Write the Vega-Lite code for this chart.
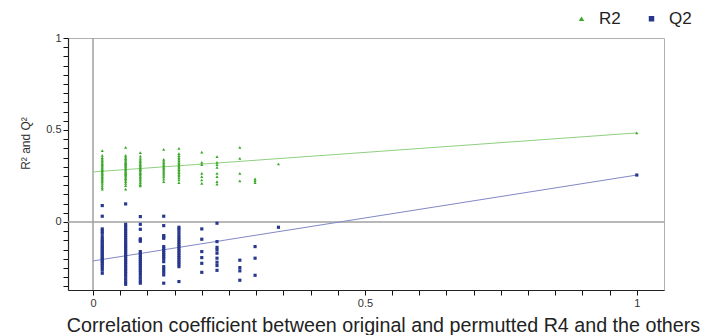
{
  "$schema": "https://vega.github.io/schema/vega-lite/v6.json",
  "width": 596,
  "height": 252,
  "autosize": "none",
  "padding": {"left": 68, "top": 38, "right": 53, "bottom": 45},
  "background": "white",
  "config": {
    "view": {"stroke": "#b0b0b0", "strokeWidth": 1},
    "font": "Liberation Sans",
    "axis": {"ticks": true, "tickColor": "#111", "tickWidth": 1, "tickSize": 5, "domainColor": "#222", "domainWidth": 1.2}
  },
  "datasets": {
    "pts": [
      {"x":0.017,"y":0.388,"s":"R2"},{"x":0.017,"y":0.362,"s":"R2"},{"x":0.017,"y":0.350,"s":"R2"},{"x":0.017,"y":0.342,"s":"R2"},{"x":0.017,"y":0.333,"s":"R2"},{"x":0.017,"y":0.325,"s":"R2"},{"x":0.017,"y":0.318,"s":"R2"},{"x":0.017,"y":0.311,"s":"R2"},{"x":0.017,"y":0.305,"s":"R2"},{"x":0.017,"y":0.298,"s":"R2"},{"x":0.017,"y":0.291,"s":"R2"},{"x":0.017,"y":0.285,"s":"R2"},{"x":0.017,"y":0.279,"s":"R2"},{"x":0.017,"y":0.272,"s":"R2"},{"x":0.017,"y":0.266,"s":"R2"},{"x":0.017,"y":0.260,"s":"R2"},{"x":0.017,"y":0.254,"s":"R2"},{"x":0.017,"y":0.247,"s":"R2"},{"x":0.017,"y":0.240,"s":"R2"},{"x":0.017,"y":0.233,"s":"R2"},{"x":0.017,"y":0.226,"s":"R2"},{"x":0.017,"y":0.218,"s":"R2"},{"x":0.017,"y":0.209,"s":"R2"},{"x":0.017,"y":0.199,"s":"R2"},{"x":0.017,"y":0.188,"s":"R2"},{"x":0.017,"y":0.178,"s":"R2"},
      {"x":0.06,"y":0.406,"s":"R2"},{"x":0.06,"y":0.362,"s":"R2"},{"x":0.06,"y":0.352,"s":"R2"},{"x":0.06,"y":0.344,"s":"R2"},{"x":0.06,"y":0.337,"s":"R2"},{"x":0.06,"y":0.330,"s":"R2"},{"x":0.06,"y":0.323,"s":"R2"},{"x":0.06,"y":0.317,"s":"R2"},{"x":0.06,"y":0.311,"s":"R2"},{"x":0.06,"y":0.305,"s":"R2"},{"x":0.06,"y":0.299,"s":"R2"},{"x":0.06,"y":0.293,"s":"R2"},{"x":0.06,"y":0.287,"s":"R2"},{"x":0.06,"y":0.281,"s":"R2"},{"x":0.06,"y":0.275,"s":"R2"},{"x":0.06,"y":0.269,"s":"R2"},{"x":0.06,"y":0.263,"s":"R2"},{"x":0.06,"y":0.257,"s":"R2"},{"x":0.06,"y":0.250,"s":"R2"},{"x":0.06,"y":0.243,"s":"R2"},{"x":0.06,"y":0.236,"s":"R2"},{"x":0.06,"y":0.228,"s":"R2"},{"x":0.06,"y":0.219,"s":"R2"},{"x":0.06,"y":0.209,"s":"R2"},{"x":0.06,"y":0.197,"s":"R2"},{"x":0.06,"y":0.178,"s":"R2"},
      {"x":0.087,"y":0.377,"s":"R2"},{"x":0.087,"y":0.358,"s":"R2"},{"x":0.087,"y":0.345,"s":"R2"},{"x":0.087,"y":0.336,"s":"R2"},{"x":0.087,"y":0.328,"s":"R2"},{"x":0.087,"y":0.320,"s":"R2"},{"x":0.087,"y":0.312,"s":"R2"},{"x":0.087,"y":0.305,"s":"R2"},{"x":0.087,"y":0.298,"s":"R2"},{"x":0.087,"y":0.291,"s":"R2"},{"x":0.087,"y":0.284,"s":"R2"},{"x":0.087,"y":0.277,"s":"R2"},{"x":0.087,"y":0.270,"s":"R2"},{"x":0.087,"y":0.263,"s":"R2"},{"x":0.087,"y":0.256,"s":"R2"},{"x":0.087,"y":0.248,"s":"R2"},{"x":0.087,"y":0.240,"s":"R2"},{"x":0.087,"y":0.231,"s":"R2"},{"x":0.087,"y":0.222,"s":"R2"},{"x":0.087,"y":0.212,"s":"R2"},{"x":0.087,"y":0.203,"s":"R2"},{"x":0.087,"y":0.196,"s":"R2"},
      {"x":0.13,"y":0.395,"s":"R2"},{"x":0.13,"y":0.340,"s":"R2"},{"x":0.13,"y":0.330,"s":"R2"},{"x":0.13,"y":0.321,"s":"R2"},{"x":0.13,"y":0.313,"s":"R2"},{"x":0.13,"y":0.305,"s":"R2"},{"x":0.13,"y":0.297,"s":"R2"},{"x":0.13,"y":0.289,"s":"R2"},{"x":0.13,"y":0.281,"s":"R2"},{"x":0.13,"y":0.272,"s":"R2"},{"x":0.13,"y":0.264,"s":"R2"},{"x":0.13,"y":0.255,"s":"R2"},{"x":0.13,"y":0.245,"s":"R2"},{"x":0.13,"y":0.233,"s":"R2"},{"x":0.13,"y":0.219,"s":"R2"},
      {"x":0.158,"y":0.400,"s":"R2"},{"x":0.158,"y":0.372,"s":"R2"},{"x":0.158,"y":0.360,"s":"R2"},{"x":0.158,"y":0.350,"s":"R2"},{"x":0.158,"y":0.341,"s":"R2"},{"x":0.158,"y":0.332,"s":"R2"},{"x":0.158,"y":0.324,"s":"R2"},{"x":0.158,"y":0.316,"s":"R2"},{"x":0.158,"y":0.308,"s":"R2"},{"x":0.158,"y":0.300,"s":"R2"},{"x":0.158,"y":0.292,"s":"R2"},{"x":0.158,"y":0.284,"s":"R2"},{"x":0.158,"y":0.276,"s":"R2"},{"x":0.158,"y":0.268,"s":"R2"},{"x":0.158,"y":0.259,"s":"R2"},{"x":0.158,"y":0.250,"s":"R2"},{"x":0.158,"y":0.240,"s":"R2"},{"x":0.158,"y":0.228,"s":"R2"},{"x":0.158,"y":0.214,"s":"R2"},
      {"x":0.2,"y":0.380,"s":"R2"},{"x":0.2,"y":0.324,"s":"R2"},{"x":0.2,"y":0.311,"s":"R2"},{"x":0.2,"y":0.264,"s":"R2"},{"x":0.2,"y":0.246,"s":"R2"},{"x":0.2,"y":0.228,"s":"R2"},{"x":0.2,"y":0.210,"s":"R2"},
      {"x":0.228,"y":0.355,"s":"R2"},{"x":0.228,"y":0.324,"s":"R2"},{"x":0.228,"y":0.311,"s":"R2"},{"x":0.228,"y":0.297,"s":"R2"},{"x":0.228,"y":0.264,"s":"R2"},{"x":0.228,"y":0.246,"s":"R2"},{"x":0.228,"y":0.219,"s":"R2"},{"x":0.228,"y":0.205,"s":"R2"},
      {"x":0.27,"y":0.406,"s":"R2"},{"x":0.27,"y":0.346,"s":"R2"},{"x":0.27,"y":0.264,"s":"R2"},{"x":0.27,"y":0.223,"s":"R2"},
      {"x":0.298,"y":0.234,"s":"R2"},{"x":0.298,"y":0.225,"s":"R2"},{"x":0.298,"y":0.214,"s":"R2"},
      {"x":0.341,"y":0.315,"s":"R2"},
      {"x":1.0,"y":0.484,"s":"R2"},
      {"x":0.017,"y":0.089,"s":"Q2"},{"x":0.017,"y":0.031,"s":"Q2"},{"x":0.017,"y":-0.038,"s":"Q2"},{"x":0.017,"y":-0.050,"s":"Q2"},{"x":0.017,"y":-0.062,"s":"Q2"},{"x":0.017,"y":-0.080,"s":"Q2"},{"x":0.017,"y":-0.095,"s":"Q2"},{"x":0.017,"y":-0.105,"s":"Q2"},{"x":0.017,"y":-0.115,"s":"Q2"},{"x":0.017,"y":-0.125,"s":"Q2"},{"x":0.017,"y":-0.134,"s":"Q2"},{"x":0.017,"y":-0.143,"s":"Q2"},{"x":0.017,"y":-0.152,"s":"Q2"},{"x":0.017,"y":-0.161,"s":"Q2"},{"x":0.017,"y":-0.170,"s":"Q2"},{"x":0.017,"y":-0.179,"s":"Q2"},{"x":0.017,"y":-0.188,"s":"Q2"},{"x":0.017,"y":-0.197,"s":"Q2"},{"x":0.017,"y":-0.206,"s":"Q2"},{"x":0.017,"y":-0.215,"s":"Q2"},{"x":0.017,"y":-0.225,"s":"Q2"},{"x":0.017,"y":-0.236,"s":"Q2"},{"x":0.017,"y":-0.248,"s":"Q2"},{"x":0.017,"y":-0.262,"s":"Q2"},{"x":0.017,"y":-0.279,"s":"Q2"},
      {"x":0.06,"y":0.098,"s":"Q2"},{"x":0.06,"y":-0.013,"s":"Q2"},{"x":0.06,"y":-0.025,"s":"Q2"},{"x":0.06,"y":-0.038,"s":"Q2"},{"x":0.06,"y":-0.050,"s":"Q2"},{"x":0.06,"y":-0.062,"s":"Q2"},{"x":0.06,"y":-0.074,"s":"Q2"},{"x":0.06,"y":-0.086,"s":"Q2"},{"x":0.06,"y":-0.098,"s":"Q2"},{"x":0.06,"y":-0.110,"s":"Q2"},{"x":0.06,"y":-0.121,"s":"Q2"},{"x":0.06,"y":-0.132,"s":"Q2"},{"x":0.06,"y":-0.143,"s":"Q2"},{"x":0.06,"y":-0.154,"s":"Q2"},{"x":0.06,"y":-0.165,"s":"Q2"},{"x":0.06,"y":-0.176,"s":"Q2"},{"x":0.06,"y":-0.187,"s":"Q2"},{"x":0.06,"y":-0.198,"s":"Q2"},{"x":0.06,"y":-0.209,"s":"Q2"},{"x":0.06,"y":-0.220,"s":"Q2"},{"x":0.06,"y":-0.232,"s":"Q2"},{"x":0.06,"y":-0.244,"s":"Q2"},{"x":0.06,"y":-0.256,"s":"Q2"},{"x":0.06,"y":-0.268,"s":"Q2"},{"x":0.06,"y":-0.281,"s":"Q2"},{"x":0.06,"y":-0.295,"s":"Q2"},{"x":0.06,"y":-0.310,"s":"Q2"},{"x":0.06,"y":-0.325,"s":"Q2"},{"x":0.06,"y":-0.339,"s":"Q2"},
      {"x":0.087,"y":0.029,"s":"Q2"},{"x":0.087,"y":-0.013,"s":"Q2"},{"x":0.087,"y":-0.040,"s":"Q2"},{"x":0.087,"y":-0.092,"s":"Q2"},{"x":0.087,"y":-0.098,"s":"Q2"},{"x":0.087,"y":-0.105,"s":"Q2"},{"x":0.087,"y":-0.161,"s":"Q2"},{"x":0.087,"y":-0.172,"s":"Q2"},{"x":0.087,"y":-0.183,"s":"Q2"},{"x":0.087,"y":-0.194,"s":"Q2"},{"x":0.087,"y":-0.205,"s":"Q2"},{"x":0.087,"y":-0.216,"s":"Q2"},{"x":0.087,"y":-0.227,"s":"Q2"},{"x":0.087,"y":-0.238,"s":"Q2"},{"x":0.087,"y":-0.250,"s":"Q2"},{"x":0.087,"y":-0.262,"s":"Q2"},{"x":0.087,"y":-0.275,"s":"Q2"},{"x":0.087,"y":-0.290,"s":"Q2"},{"x":0.087,"y":-0.305,"s":"Q2"},{"x":0.087,"y":-0.320,"s":"Q2"},{"x":0.087,"y":-0.333,"s":"Q2"},
      {"x":0.13,"y":0.031,"s":"Q2"},{"x":0.13,"y":-0.020,"s":"Q2"},{"x":0.13,"y":-0.074,"s":"Q2"},{"x":0.13,"y":-0.082,"s":"Q2"},{"x":0.13,"y":-0.089,"s":"Q2"},{"x":0.13,"y":-0.134,"s":"Q2"},{"x":0.13,"y":-0.145,"s":"Q2"},{"x":0.13,"y":-0.156,"s":"Q2"},{"x":0.13,"y":-0.167,"s":"Q2"},{"x":0.13,"y":-0.178,"s":"Q2"},{"x":0.13,"y":-0.189,"s":"Q2"},{"x":0.13,"y":-0.200,"s":"Q2"},{"x":0.13,"y":-0.216,"s":"Q2"},{"x":0.13,"y":-0.243,"s":"Q2"},{"x":0.13,"y":-0.258,"s":"Q2"},{"x":0.13,"y":-0.273,"s":"Q2"},{"x":0.13,"y":-0.288,"s":"Q2"},{"x":0.13,"y":-0.333,"s":"Q2"},
      {"x":0.158,"y":-0.029,"s":"Q2"},{"x":0.158,"y":-0.040,"s":"Q2"},{"x":0.158,"y":-0.055,"s":"Q2"},{"x":0.158,"y":-0.070,"s":"Q2"},{"x":0.158,"y":-0.085,"s":"Q2"},{"x":0.158,"y":-0.098,"s":"Q2"},{"x":0.158,"y":-0.110,"s":"Q2"},{"x":0.158,"y":-0.122,"s":"Q2"},{"x":0.158,"y":-0.134,"s":"Q2"},{"x":0.158,"y":-0.146,"s":"Q2"},{"x":0.158,"y":-0.158,"s":"Q2"},{"x":0.158,"y":-0.170,"s":"Q2"},{"x":0.158,"y":-0.182,"s":"Q2"},{"x":0.158,"y":-0.194,"s":"Q2"},{"x":0.158,"y":-0.206,"s":"Q2"},{"x":0.158,"y":-0.218,"s":"Q2"},{"x":0.158,"y":-0.230,"s":"Q2"},{"x":0.158,"y":-0.243,"s":"Q2"},{"x":0.158,"y":-0.324,"s":"Q2"},
      {"x":0.2,"y":-0.038,"s":"Q2"},{"x":0.2,"y":-0.094,"s":"Q2"},{"x":0.2,"y":-0.161,"s":"Q2"},{"x":0.2,"y":-0.194,"s":"Q2"},{"x":0.2,"y":-0.225,"s":"Q2"},{"x":0.2,"y":-0.274,"s":"Q2"},
      {"x":0.228,"y":-0.007,"s":"Q2"},{"x":0.228,"y":-0.107,"s":"Q2"},{"x":0.228,"y":-0.138,"s":"Q2"},{"x":0.228,"y":-0.152,"s":"Q2"},{"x":0.228,"y":-0.170,"s":"Q2"},{"x":0.228,"y":-0.197,"s":"Q2"},{"x":0.228,"y":-0.219,"s":"Q2"},{"x":0.228,"y":-0.237,"s":"Q2"},{"x":0.228,"y":-0.263,"s":"Q2"},
      {"x":0.27,"y":-0.208,"s":"Q2"},{"x":0.27,"y":-0.248,"s":"Q2"},{"x":0.27,"y":-0.266,"s":"Q2"},{"x":0.27,"y":-0.317,"s":"Q2"},
      {"x":0.298,"y":-0.134,"s":"Q2"},{"x":0.298,"y":-0.197,"s":"Q2"},{"x":0.298,"y":-0.290,"s":"Q2"},
      {"x":0.341,"y":-0.029,"s":"Q2"},
      {"x":1.0,"y":0.255,"s":"Q2"}
    ],
    "fit": [
      {"x":0,"y":0.272,"s":"R2"},{"x":1,"y":0.484,"s":"R2"},
      {"x":0,"y":-0.212,"s":"Q2"},{"x":1,"y":0.255,"s":"Q2"}
    ],
    "origin": [{"x":0,"y":0}]
  },
  "encoding": {
    "x": {
      "type": "quantitative",
      "scale": {"domain": [-0.046, 1.05], "nice": false, "zero": false},
      "axis": {
        "values": [0,0.05,0.1,0.15,0.2,0.25,0.3,0.35,0.4,0.45,0.5,0.55,0.6,0.65,0.7,0.75,0.8,0.85,0.9,0.95,1],
        "labelExpr": "datum.value == 0 ? '0' : datum.value == 0.5 ? '0.5' : datum.value == 1 ? '1' : ''",
        "title": "Correlation coefficient between original and permutted R4 and the others",
        "titleFontSize": 19.7, "titleFontWeight": "normal", "titleColor": "#222",
        "titleX": 315, "titleY": 41, "titleBaseline": "alphabetic",
        "labelFontSize": 11, "labelColor": "#333", "labelPadding": 2,
        "grid": false
      }
    },
    "y": {
      "type": "quantitative",
      "scale": {"domain": [-0.37, 1], "nice": false, "zero": false},
      "axis": {
        "values": [-0.35,-0.3,-0.25,-0.2,-0.15,-0.1,-0.05,0,0.05,0.1,0.15,0.2,0.25,0.3,0.35,0.4,0.45,0.5,0.55,0.6,0.65,0.7,0.75,0.8,0.85,0.9,0.95,1],
        "labelExpr": "datum.value == 0 ? '0' : datum.value == 0.5 ? '0.5' : datum.value == 1 ? '1' : ''",
        "title": "R² and Q²",
        "titleFontSize": 12, "titleFontWeight": "normal", "titleColor": "#333",
        "titleX": -36, "titleY": 105, "titleAlign": "center",
        "labelFontSize": 11, "labelColor": "#333", "labelPadding": 2,
        "grid": false
      }
    }
  },
  "layer": [
    {
      "data": {"name": "origin"},
      "mark": {"type": "rule", "color": "#a0a0a0", "strokeWidth": 1.5},
      "encoding": {"x": {"field": "x"}}
    },
    {
      "data": {"name": "origin"},
      "mark": {"type": "rule", "color": "#a0a0a0", "strokeWidth": 1.5},
      "encoding": {"y": {"field": "y"}}
    },
    {
      "data": {"name": "fit"},
      "mark": {"type": "line", "strokeWidth": 1},
      "encoding": {
        "x": {"field": "x"},
        "y": {"field": "y"},
        "detail": {"field": "s"},
        "color": {"field": "s", "type": "nominal", "scale": {"domain": ["R2", "Q2"], "range": ["#8fd07f", "#8189c4"]}, "legend": null}
      }
    },
    {
      "data": {"name": "pts"},
      "mark": {"type": "point", "filled": true, "opacity": 1, "size": 10},
      "encoding": {
        "x": {"field": "x"},
        "y": {"field": "y"},
        "fill": {"field": "s", "type": "nominal", "scale": {"domain": ["R2", "Q2"], "range": ["#3aa829", "#26378c"]},
          "legend": {"title": null, "orient": "none", "legendX": 505, "legendY": -28, "direction": "horizontal", "labelFontSize": 17, "labelColor": "#222", "symbolSize": 30, "columnPadding": 22, "labelOffset": 9}},
        "shape": {"field": "s", "type": "nominal", "scale": {"domain": ["R2", "Q2"], "range": ["triangle-up", "square"]}}
      }
    }
  ],
  "resolve": {"scale": {"color": "independent"}}
}
